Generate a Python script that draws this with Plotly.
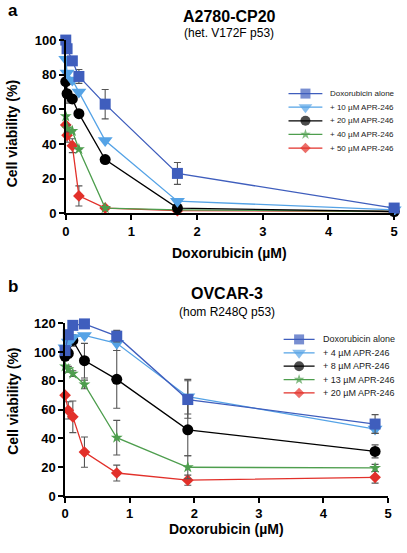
import plotly.graph_objects as go

W, H = 407, 553

# ---------------- data ----------------
series_names_a = ["Doxorubicin alone", "+ 10 µM APR-246", "+ 20 µM APR-246",
                  "+ 40 µM APR-246", "+ 50 µM APR-246"]
dox_a = [0, 0.02, 0.1, 0.2, 0.6, 1.7, 5]
alone_a = [100, 95, 88, 79, 63, 23, 3]
alone_a_err = [0, 0, 0, 4, 8.5, 6.3, 0]
apr10_a = [89, 81, 77, 70, 42, 7, 2]
apr10_a_err = [0, 0, 0, 0, 0, 0, 0]
apr20_a = [76, 69, 66, 57.5, 31, 3, 1]
apr20_a_err = [0, 5.5, 0, 0, 0, 0, 0]
apr40_a = [56, 49, 47.5, 37, 3, 2, 1]
apr40_a_err = [0, 2, 0, 0, 0, 0, 0]
apr50_a = [51, 45, 39, 10, 3, 1.5, 1]
apr50_a_err = [0, 4, 4, 5.8, 0, 0, 0]

series_names_b = ["Doxorubicin alone", "+ 4 µM APR-246", "+ 8 µM APR-246",
                  "+ 13 µM APR-246", "+ 20 µM APR-246"]
dox_b = [0, 0.05, 0.12, 0.3, 0.8, 1.9, 4.8]
alone_b = [101, 112, 118.5, 119.5, 111, 67, 50]
alone_b_err = [0, 0, 0, 0, 4, 13, 6.5]
apr4_b = [103, 107, 110, 111.5, 106, 69, 46.5]
apr4_b_err = [0, 0, 0, 0, 5, 12, 3]
apr8_b = [97, 99, 108, 94, 81, 46, 31]
apr8_b_err = [0, 3, 4, 12, 20, 18, 4.5]
apr13_b = [90, 88, 85, 77.5, 40.5, 20, 19.5]
apr13_b_err = [0, 2, 2, 3, 12, 8, 2.5]
apr20_b = [70, 59.5, 55, 30.5, 16, 11, 13]
apr20_b_err = [0, 6, 11, 10.5, 5.5, 3.5, 4]

x_ticks = [0, 1, 2, 3, 4, 5]
y_ticks_a = [0, 20, 40, 60, 80, 100]
y_ticks_b = [0, 20, 40, 60, 80, 100, 120]

# ---------------- styles ----------------
colors = ["#3F5EBD", "#55A3E6", "#000000", "#4E9E4E", "#E2302A"]
symbols = ["square", "triangle-down", "circle", "star", "diamond"]
sizes = [11, 13, 11, 9, 9]
FONT = "Arial, Liberation Sans, Helvetica, sans-serif"


def px(x):
    return x / W


def py(y):
    return 1 - y / H


fig = go.Figure()

panels = [
    (dox_a, [alone_a, apr10_a, apr20_a, apr40_a, apr50_a],
     [alone_a_err, apr10_a_err, apr20_a_err, apr40_a_err, apr50_a_err], "x", "y"),
    (dox_b, [alone_b, apr4_b, apr8_b, apr13_b, apr20_b],
     [alone_b_err, apr4_b_err, apr8_b_err, apr13_b_err, apr20_b_err], "x2", "y2"),
]

for xs, ys_list, err_list, xa, ya in panels:
    # draw from last to first so 'alone' sits on top
    for i in reversed(range(5)):
        fig.add_trace(go.Scatter(
            x=xs, y=ys_list[i], xaxis=xa, yaxis=ya, mode="lines+markers",
            line=dict(color=colors[i], width=1.3),
            marker=dict(symbol=symbols[i], size=sizes[i], color=colors[i],
                        line=dict(width=0)),
            error_y=dict(type="data", array=err_list[i], visible=True,
                         color="#555555", thickness=1.1, width=3.5),
            cliponaxis=False, showlegend=False))

# ---------------- legends (drawn on small helper axes) ----------------
legend_specs = [
    (series_names_a, "x3", "y3", 331, 8),
    (series_names_b, "x4", "y4", 323, 9),
]
annotations = []
for names, xa, ya, text_x, fs in legend_specs:
    for i, name in enumerate(names):
        fig.add_trace(go.Scatter(
            x=[0, 0.5, 1], y=[i, i, i], xaxis=xa, yaxis=ya, mode="lines+markers",
            line=dict(color=colors[i], width=1.3),
            marker=dict(symbol=symbols[i], size=[0, sizes[i] - 1, 0], color=colors[i],
                        line=dict(width=0)),
            cliponaxis=False, showlegend=False, hoverinfo="skip"))
        annotations.append(dict(
            x=px(text_x), xref="paper", y=i, yref=ya, text=name, showarrow=False,
            xanchor="left", yanchor="middle",
            font=dict(family=FONT, size=fs, color="#222222")))

axis_common = dict(showline=True, linecolor="black", linewidth=1.5, ticks="outside",
                   ticklen=5, tickwidth=1.5, tickcolor="black", showgrid=False,
                   zeroline=False, tickfont=dict(family=FONT, size=13, color="black",
                                                 weight="bold"))

hidden = dict(visible=False, showgrid=False, zeroline=False, fixedrange=True)

fig.update_layout(
    width=W, height=H, margin=dict(l=0, r=0, t=0, b=0),
    paper_bgcolor="white", plot_bgcolor="white",
    font=dict(family=FONT, color="black"),
    xaxis=dict(domain=[px(63), px(398)], range=[0, 5], tickvals=x_ticks, anchor="y",
               **axis_common),
    yaxis=dict(domain=[py(212), py(34)], range=[0, 100], tickvals=y_ticks_a,
               anchor="x", **axis_common),
    xaxis2=dict(domain=[px(62.3), px(391.7)], range=[0, 5], tickvals=x_ticks,
                anchor="y2", **axis_common),
    yaxis2=dict(domain=[py(502.7), py(325)], range=[0, 120], tickvals=y_ticks_b,
                anchor="x2", **axis_common),
    xaxis3=dict(domain=[px(290), px(325)], range=[0, 1], anchor="y3", **hidden),
    yaxis3=dict(domain=[py(152), py(82)], range=[4.5, -0.5], anchor="x3", **hidden),
    xaxis4=dict(domain=[px(285), px(317)], range=[0, 1], anchor="y4", **hidden),
    yaxis4=dict(domain=[py(403.6), py(334.8)], range=[4.5, -0.5], anchor="x4", **hidden),
)

text_items = [
    ("a", 2, 4, 17, "bold", "left"),
    ("b", 2, 287, 17, "bold", "left"),
    ("A2780-CP20", 230, 10, 16, "bold", "center"),
    ("(het. V172F p53)", 230, 27, 12, "normal", "center"),
    ("OVCAR-3", 227, 295, 16, "bold", "center"),
    ("(hom R248Q p53)", 227, 313, 12, "normal", "center"),
    ("Doxorubicin (µM)", 230, 253, 14, "bold", "center"),
    ("Doxorubicin (µM)", 227, 537, 14, "bold", "center"),
]
for txt, x, y, s, wgt, anc in text_items:
    annotations.append(dict(x=px(x), y=py(y), xref="paper", yref="paper", text=txt,
                            showarrow=False, xanchor=anc, yanchor="middle",
                            font=dict(family=FONT, size=s, weight=wgt, color="black")))
for yc in (130, 405):
    annotations.append(dict(x=px(9), y=py(yc), xref="paper", yref="paper",
                            text="Cell viability (%)", showarrow=False, textangle=-90,
                            xanchor="center", yanchor="middle",
                            font=dict(family=FONT, size=14, weight="bold", color="black")))

fig.update_layout(annotations=annotations)
fig.write_html("out.html", config={"displayModeBar": False},
               post_script="document.body.style.margin='0';"
                           "document.body.style.overflow='hidden';")
